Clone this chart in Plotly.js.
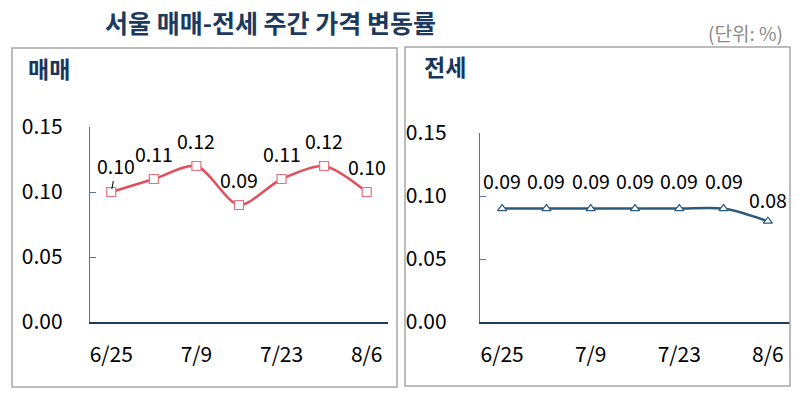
<!DOCTYPE html>
<html><head><meta charset="utf-8">
<script src="https://cdn.plot.ly/plotly-3.0.1.min.js"></script>
<style>html,body{margin:0;padding:0;background:#fff}</style>
</head><body><div id="chart" style="width:800px;height:399px"></div>
<script>
const weeks = ["6/25","7/2","7/9","7/16","7/23","7/30","8/6"];
const tickWeeks = ["6/25","7/9","7/23","8/6"];
const saleValues = [0.10, 0.11, 0.12, 0.09, 0.11, 0.12, 0.10];
const rentValues = [0.09, 0.09, 0.09, 0.09, 0.09, 0.09, 0.08];
const yTicks = [0, 0.05, 0.10, 0.15];
const yTickText = ["0.00","0.05","0.10","0.15"];

const FONT = "'Noto Sans CJK KR', 'Noto Sans', sans-serif";
const W = 800, H = 399;
const px = v => v / W, py = v => 1 - v / H;

const saleColor = "#E0505C", rentColor = "#2C5A7C";

const traces = [
  {x: weeks, y: saleValues, xaxis: "x", yaxis: "y", mode: "lines+markers",
   line: {color: saleColor, width: 2.5, shape: "spline", smoothing: 0.8},
   marker: {symbol: "square", size: 9, color: "#fff", line: {color: "#E8707C", width: 1.2}},
   hoverinfo: "skip"},
  {x: weeks, y: rentValues, xaxis: "x2", yaxis: "y2", mode: "lines+markers",
   line: {color: rentColor, width: 2.5, shape: "spline", smoothing: 0.8},
   marker: {symbol: "triangle-up", size: 8, color: "#fff", line: {color: rentColor, width: 1.2}},
   hoverinfo: "skip"}
];

const annotations = [];
saleValues.forEach((v, i) => {
  const a = {x: weeks[i], y: v, xref: "x", yref: "y", text: v.toFixed(2),
    showarrow: false, yshift: 26, font: {family: FONT, size: 19.5, color: "#000"}};
  if (i === 0) {
    Object.assign(a, {showarrow: true, arrowhead: 0, arrowwidth: 1, arrowcolor: "#000",
      ax: 5, ay: -27, standoff: 3, yshift: 0});
  }
  annotations.push(a);
});
rentValues.forEach((v, i) => {
  annotations.push({x: weeks[i], y: v, xref: "x2", yref: "y2", text: v.toFixed(2),
    showarrow: false, yshift: i === rentValues.length - 1 ? 22 : 28,
    font: {family: FONT, size: 19.5, color: "#000"}});
});
annotations.push(
  {xref: "paper", yref: "paper", x: px(270), y: py(22), text: "<b>서울 매매-전세 주간 가격 변동률</b>",
   showarrow: false, font: {family: FONT, size: 25, color: "#1B3A5E"}, xanchor: "center", yanchor: "middle"},
  {xref: "paper", yref: "paper", x: px(785), y: py(33), text: "(단위: %)",
   showarrow: false, font: {family: FONT, size: 19, color: "#8a8a8a"}, xanchor: "right", yanchor: "middle"},
  {xref: "paper", yref: "paper", x: px(26), y: py(68), text: "<b>매매</b>",
   showarrow: false, font: {family: FONT, size: 23, color: "#17375E"}, xanchor: "left", yanchor: "middle"},
  {xref: "paper", yref: "paper", x: px(422), y: py(66), text: "<b>전세</b>",
   showarrow: false, font: {family: FONT, size: 23, color: "#17375E"}, xanchor: "left", yanchor: "middle"}
);

const xCommon = {type: "category", range: [-0.5, 6.5], tickmode: "array",
  tickvals: tickWeeks, ticktext: tickWeeks, ticks: "", showgrid: false, zeroline: false,
  showline: true, linecolor: "#1F3A5A", linewidth: 1.5, ticklabelstandoff: 13,
  tickfont: {family: FONT, size: 21, color: "#000"}, fixedrange: true};
const yCommon = {range: [0, 0.15], tickmode: "array", tickvals: yTicks, ticktext: yTickText,
  ticks: "inside", ticklen: 6, tickcolor: "#5A7494", showgrid: false, zeroline: false,
  showline: true, linecolor: "#5A7494", linewidth: 1.2,
  tickfont: {family: FONT, size: 21, color: "#000"}, fixedrange: true};

const layout = {
  width: W, height: H, margin: {l: 0, r: 0, t: 0, b: 0},
  paper_bgcolor: "#fff", plot_bgcolor: "rgba(0,0,0,0)", showlegend: false,
  xaxis: Object.assign({}, xCommon, {domain: [px(90), px(388)], anchor: "y"}),
  yaxis: Object.assign({}, yCommon, {domain: [py(322), py(127)], anchor: "x", ticklabelstandoff: 22}),
  xaxis2: Object.assign({}, xCommon, {domain: [px(480), px(790)], anchor: "y2"}),
  yaxis2: Object.assign({}, yCommon, {domain: [py(322), py(133)], anchor: "x2", ticklabelstandoff: 28}),
  shapes: [
    {type: "rect", xref: "paper", yref: "paper", x0: px(12), x1: px(397), y0: py(387), y1: py(48),
     line: {color: "#A6A6A6", width: 1.5}},
    {type: "rect", xref: "paper", yref: "paper", x0: px(405), x1: px(790), y0: py(386), y1: py(47),
     line: {color: "#A6A6A6", width: 1.5}}
  ],
  annotations: annotations
};

Plotly.newPlot("chart", traces, layout, {displayModeBar: false, staticPlot: true});
</script></body></html>
